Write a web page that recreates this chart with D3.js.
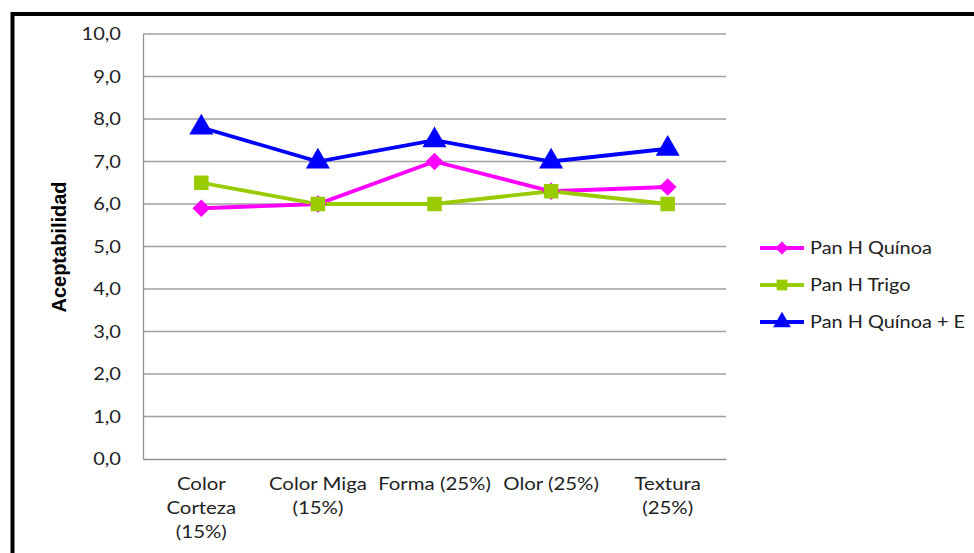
<!DOCTYPE html>
<html><head><meta charset="utf-8">
<script src="https://cdn.jsdelivr.net/npm/d3@7"></script>
<style>body{margin:0;background:#fff}svg{display:block}text{font-family:Lato,"Open Sans",sans-serif;fill:#000}</style>
</head><body><svg id="c" width="974" height="553"></svg>
<script>
const categories = [["Color","Corteza","(15%)"],["Color Miga","(15%)"],["Forma (25%)"],["Olor (25%)"],["Textura","(25%)"]];
const seriesNames = ["Pan H Quínoa","Pan H Trigo","Pan H Quínoa + E"];
const quinoa = [5.9, 6.0, 7.0, 6.3, 6.4];
const trigo = [6.5, 6.0, 6.0, 6.3, 6.0];
const quinoaE = [7.8, 7.0, 7.5, 7.0, 7.3];
const yTicks = [0,1,2,3,4,5,6,7,8,9,10];
const colors = ["#FF00FF","#99CC00","#0000FF"];
const symbols = [d3.symbolDiamond2, d3.symbolSquare, d3.symbolTriangle];
const symSizes = [200, 210, 250];

const svg = d3.select("#c");
svg.append("rect").attr("x",12.5).attr("y",14).attr("width",1000).attr("height",600)
  .attr("fill","#fff").attr("stroke","#000").attr("stroke-width",4);

const L=143,R=726,T=34,B=459;
const x = d3.scaleBand().domain(d3.range(categories.length)).range([L,R]);
const y = d3.scaleLinear().domain([0,10]).range([B,T]);

function stretch(sel, f){
  sel.each(function(){
    const len = this.getComputedTextLength();
    d3.select(this).attr("textLength", len*f).attr("lengthAdjust","spacingAndGlyphs");
  });
}

// gridlines
svg.append("g").selectAll("line").data(yTicks.slice(1)).join("line")
  .attr("x1",L).attr("x2",R).attr("y1",d=>y(d)).attr("y2",d=>y(d))
  .attr("stroke","#a0a0a0").attr("stroke-width",1.3);

const yAxis = svg.append("g").attr("transform",`translate(${L},0)`)
  .call(d3.axisLeft(y).tickValues(yTicks).tickSize(0).tickPadding(22).tickFormat(d=>d3.format(".1f")(d).replace(".",",")));
yAxis.select(".domain").attr("stroke","#909090").attr("stroke-width",1.3);
yAxis.selectAll("text").style("font-size","17px").style("font-family","Lato,sans-serif").style("fill","#222").attr("dy","0.35em");
stretch(yAxis.selectAll("text"), 1.18);

const xAxis = svg.append("g").attr("transform",`translate(0,${B})`)
  .call(d3.axisBottom(x).tickSize(0).tickFormat(""));
xAxis.select(".domain").attr("stroke","#909090").attr("stroke-width",1.3);
xAxis.selectAll(".tick").each(function(d){
  const g = d3.select(this);
  categories[d].forEach((s,i)=>g.append("text").attr("class","xl").attr("text-anchor","middle")
    .style("font-size","17px").style("fill","#222").attr("x",0).attr("y",31+i*24).text(s));
});
stretch(xAxis.selectAll("text.xl"), 1.2);

svg.append("text").attr("transform","translate(66,247) rotate(-90)").attr("text-anchor","middle")
  .style("font-family","'Liberation Sans',Arial,sans-serif")
  .style("font-size","20px").style("font-weight","bold").text("Aceptabilidad");

const allSeries = [quinoa, trigo, quinoaE];
const line = d3.line().x((d,i)=>x(i)+x.bandwidth()/2).y(d=>y(d));
allSeries.forEach((vals,si)=>{
  svg.append("path").datum(vals).attr("d",line).attr("fill","none")
    .attr("stroke",colors[si]).attr("stroke-width",3.8);
});
allSeries.forEach((vals,si)=>{
  svg.append("g").selectAll("path").data(vals).join("path")
    .attr("d",d3.symbol().type(symbols[si]).size(symSizes[si]))
    .attr("transform",(d,i)=>`translate(${x(i)+x.bandwidth()/2},${y(d)})`)
    .attr("fill",colors[si]);
});

// legend
const lg = svg.append("g");
seriesNames.forEach((n,i)=>{
  const yy = 248 + i*37;
  lg.append("line").attr("x1",760).attr("x2",804).attr("y1",yy).attr("y2",yy).attr("stroke",colors[i]).attr("stroke-width",3.8);
  lg.append("path").attr("d",d3.symbol().type(symbols[i]).size(symSizes[i]*0.55)).attr("transform",`translate(782,${yy})`).attr("fill",colors[i]);
  lg.append("text").attr("x",810).attr("y",yy).attr("dy","0.35em").style("font-size","17px").style("fill","#222").text(n);
});
stretch(lg.selectAll("text"), 1.17);
</script></body></html>
